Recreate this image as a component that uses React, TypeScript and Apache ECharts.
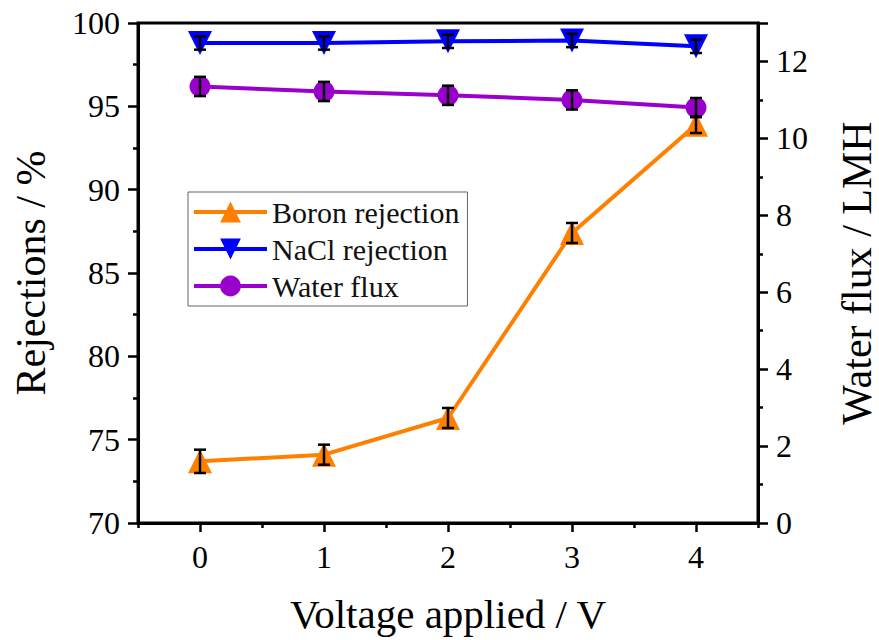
import React, { useEffect, useRef } from "react";
import * as echarts from "echarts";

const voltages = [0, 1, 2, 3, 4];
const xTickLabels = [0, 1, 2, 3, 4];
const boronRejection = [73.7, 74.1, 76.3, 87.4, 93.9];
const boronError = [0.7, 0.6, 0.6, 0.6, 0.5];
const naclRejection = [98.8, 98.8, 98.9, 98.95, 98.6];
const naclError = [0.4, 0.4, 0.4, 0.4, 0.4];
const waterFlux = [11.35, 11.22, 11.12, 11.0, 10.8];
const waterFluxError = [0.25, 0.25, 0.25, 0.25, 0.25];

const FONT = '"Liberation Serif", "Times New Roman", serif';

function errorSeries(name: string, values: number[], errors: number[], yAxisIndex: number) {
  return {
    type: "custom",
    name: name + " error",
    yAxisIndex,
    z: 5,
    silent: true,
    encode: { x: 0, y: 1 },
    data: voltages.map((v, i) => [v, values[i], errors[i]]),
    renderItem: (params: any, api: any) => {
      const x = api.value(0);
      const y = api.value(1);
      const e = api.value(2);
      const top = api.coord([x, y + e]);
      const bot = api.coord([x, y - e]);
      const cap = 6;
      const style = { stroke: "#000", lineWidth: 2.5 };
      return {
        type: "group",
        children: [
          { type: "line", shape: { x1: top[0], y1: top[1], x2: bot[0], y2: bot[1] }, style },
          { type: "line", shape: { x1: top[0] - cap, y1: top[1], x2: top[0] + cap, y2: top[1] }, style },
          { type: "line", shape: { x1: bot[0] - cap, y1: bot[1], x2: bot[0] + cap, y2: bot[1] }, style },
        ],
      };
    },
  };
}

export default function App() {
  const ref = useRef<HTMLDivElement>(null);
  useEffect(() => {
    document.body.style.margin = "0";
    const chart = echarts.init(ref.current!, null, { renderer: "svg" });
    const axisLine = { show: true, onZero: false, lineStyle: { color: "#000", width: 3 } };
    const tickStyle = { color: "#000", width: 2.5 };
    const labelStyle = { color: "#000", fontFamily: FONT, fontSize: 32 };
    const nameStyle = { color: "#000", fontFamily: FONT, fontSize: 42 };
    chart.setOption({
      animation: false,
      backgroundColor: "#fff",
      grid: {
        left: 138,
        right: 121,
        top: 23,
        bottom: 117,
        containLabel: false,
        outerBoundsMode: "none",
        show: true,
        borderColor: "#000",
        borderWidth: 3,
        backgroundColor: "transparent",
      },
      legend: {
        orient: "vertical",
        left: 188,
        top: 192,
        data: ["Boron rejection", "NaCl rejection", "Water flux"],
        backgroundColor: "#fff",
        borderColor: "#666",
        borderWidth: 1,
        borderRadius: 0,
        padding: [5, 8, 5, 4],
        itemWidth: 73,
        itemHeight: 26,
        itemGap: 7,
        lineStyle: { width: 4 },
        textStyle: { color: "#111", fontFamily: FONT, fontSize: 30 },
      },
      xAxis: [
        {
          type: "value",
          min: -0.5,
          max: 4.5,
          interval: 1,
          axisLine,
          axisTick: { show: true, length: 5, lineStyle: tickStyle },
          minorTick: { show: true, splitNumber: 2, length: 9, lineStyle: tickStyle },
          axisLabel: { ...labelStyle, margin: 18, customValues: xTickLabels },
          splitLine: { show: false },
          minorSplitLine: { show: false },
          name: "Voltage applied / V",
          nameLocation: "middle",
          nameGap: 70,
          nameTextStyle: { ...nameStyle, fontSize: 41 },
        },
      ],
      yAxis: [
        {
          type: "value",
          position: "left",
          min: 70,
          max: 100,
          interval: 5,
          axisLine,
          axisTick: { show: true, length: 10, lineStyle: tickStyle },
          minorTick: { show: true, splitNumber: 2, length: 5, lineStyle: tickStyle },
          axisLabel: { ...labelStyle, margin: 18 },
          splitLine: { show: false },
          name: "Rejections / %",
          nameLocation: "middle",
          nameRotate: 90,
          nameGap: 86,
          nameTextStyle: nameStyle,
        },
        {
          type: "value",
          position: "right",
          min: 0,
          max: 13,
          interval: 2,
          axisLine,
          axisTick: { show: true, length: 10, lineStyle: tickStyle },
          minorTick: { show: true, splitNumber: 2, length: 5, lineStyle: tickStyle },
          axisLabel: { ...labelStyle, margin: 18, showMaxLabel: false },
          splitLine: { show: false },
          name: "Water flux / LMH",
          nameLocation: "middle",
          nameRotate: 90,
          nameGap: 78,
          nameTextStyle: nameStyle,
        },
      ],
      series: [
        {
          name: "Boron rejection",
          type: "line",
          yAxisIndex: 0,
          data: voltages.map((v, i) => [v, boronRejection[i]]),
          symbol: "triangle",
          symbolSize: 24,
          color: "#FF8000",
          lineStyle: { color: "#FF8000", width: 4 },
          itemStyle: { color: "#FF8000" },
          z: 3,
        },
        {
          name: "NaCl rejection",
          type: "line",
          yAxisIndex: 0,
          data: voltages.map((v, i) => [v, naclRejection[i]]),
          symbol: "triangle",
          symbolRotate: 180,
          symbolSize: 24,
          color: "#0000FF",
          lineStyle: { color: "#0000FF", width: 4 },
          itemStyle: { color: "#0000FF" },
          z: 3,
        },
        {
          name: "Water flux",
          type: "line",
          yAxisIndex: 1,
          data: voltages.map((v, i) => [v, waterFlux[i]]),
          symbol: "circle",
          symbolSize: 21,
          color: "#9A00CC",
          lineStyle: { color: "#9A00CC", width: 4 },
          itemStyle: { color: "#9A00CC" },
          z: 3,
        },
        errorSeries("Boron rejection", boronRejection, boronError, 0),
        errorSeries("NaCl rejection", naclRejection, naclError, 0),
        errorSeries("Water flux", waterFlux, waterFluxError, 1),
      ],
    });
    return () => chart.dispose();
  }, []);
  return <div ref={ref} style={{ width: 879, height: 640 }} />;
}
